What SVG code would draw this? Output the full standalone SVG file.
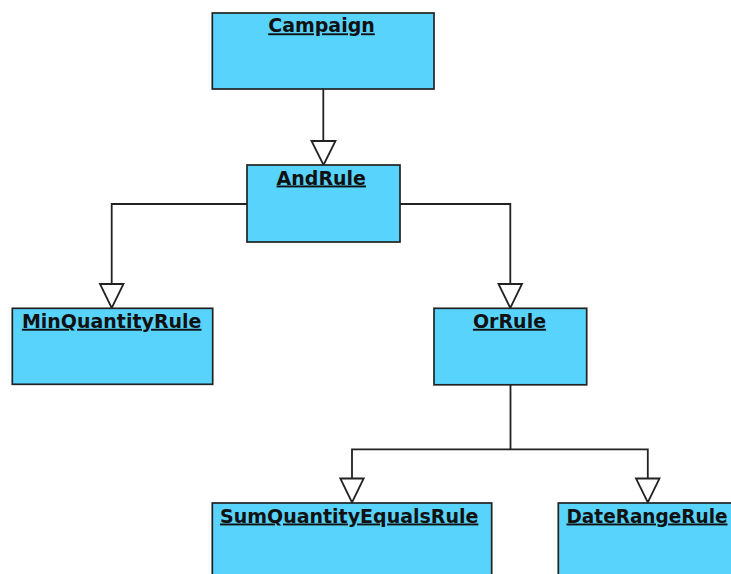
<svg xmlns="http://www.w3.org/2000/svg" width="731" height="574" viewBox="0 0 731 574">
  <defs>
    <style>
      .box { fill: #58d3fb; stroke: #222; stroke-width: 1.7; }
      .name { font-family: "DejaVu Sans", "Liberation Sans", sans-serif; font-weight: bold; font-size: 19px; fill: #111; text-decoration: underline; }
      .edge { fill: none; stroke: #222; stroke-width: 1.8; }
      .head { fill: #fff; stroke: #222; stroke-width: 1.8; stroke-linejoin: miter; }
    </style>
  </defs>
  <rect width="731" height="574" fill="#fff"/>

  <!-- generalization connectors with hollow triangle heads -->
  <g id="connectors">
    <path class="edge" d="M323.3,89 V141"/>
    <polygon class="head" points="311.5,141 335.5,141 323.5,165"/>

    <path class="edge" d="M247,204 H111.7 V284"/>
    <polygon class="head" points="100,284 123.5,284 111.7,308"/>

    <path class="edge" d="M400,204 H510.3 V284"/>
    <polygon class="head" points="498.5,284 522,284 510.3,308"/>

    <path class="edge" d="M510.5,385 V449.3 M352,478.5 V449.3 H647.8 V478.5"/>
    <polygon class="head" points="340.3,478.5 363.7,478.5 352,502.5"/>
    <polygon class="head" points="636,478.5 659.5,478.5 647.8,502.5"/>
  </g>

  <g id="campaign">
    <rect class="box" x="212.3" y="13" width="221.7" height="76"/>
    <text class="name" x="321.5" y="32.3" text-anchor="middle">Campaign</text>
  </g>

  <g id="and-rule">
    <rect class="box" x="247" y="165" width="153" height="77"/>
    <text class="name" x="321.3" y="184.5" text-anchor="middle">AndRule</text>
  </g>

  <g id="min-quantity-rule">
    <rect class="box" x="12.3" y="308.3" width="200.4" height="76"/>
    <text class="name" x="111.7" y="327.8" text-anchor="middle">MinQuantityRule</text>
  </g>

  <g id="or-rule">
    <rect class="box" x="434" y="308.3" width="152.7" height="76.5"/>
    <text class="name" x="509.5" y="327.8" text-anchor="middle">OrRule</text>
  </g>

  <g id="sum-quantity-equals-rule">
    <rect class="box" x="212.3" y="503" width="279.4" height="80"/>
    <text class="name" x="349.2" y="522.5" text-anchor="middle">SumQuantityEqualsRule</text>
  </g>

  <g id="date-range-rule">
    <rect class="box" x="558.3" y="503" width="190" height="80"/>
    <text class="name" x="566.5" y="522.5" textLength="161" lengthAdjust="spacingAndGlyphs">DateRangeRule</text>
  </g>
</svg>
